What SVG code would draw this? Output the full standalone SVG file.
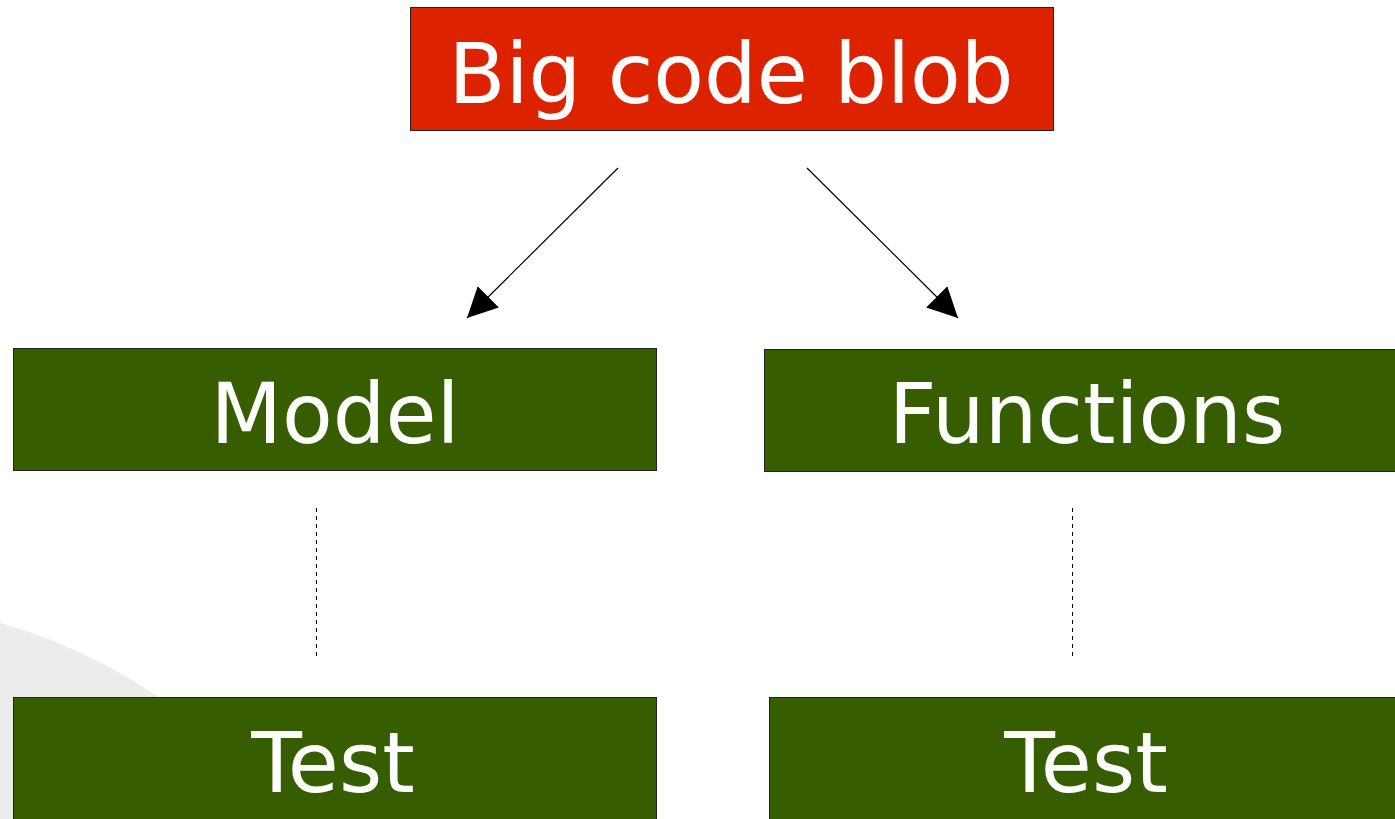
<svg xmlns="http://www.w3.org/2000/svg" width="1395" height="819" viewBox="0 0 1395 819">
  <defs>
    <style>
      .box { stroke: #222; stroke-width: 1; }
      .green { fill: #365e00; }
      .red { fill: #dd2200; }
      .label { font-family: "DejaVu Sans", Verdana, sans-serif; font-size: 83px; fill: #ffffff; text-anchor: middle; }
      .arrow { stroke: #000; stroke-width: 1.2; fill: none; }
      .dash { stroke: #000; stroke-width: 1; stroke-dasharray: 4 4; fill: none; }
    </style>
    <marker id="head" viewBox="0 0 10 10" refX="10" refY="5" markerWidth="30" markerHeight="30" markerUnits="userSpaceOnUse" orient="auto">
      <path d="M0,0 L10,5 L0,10 Z" fill="#000"/>
    </marker>
  </defs>
  <rect width="1395" height="819" fill="#ffffff"/>
  <circle cx="-140" cy="1128" r="524" fill="#ececec"/>
  <g id="connectors">
    <line class="arrow" x1="618" y1="168" x2="467" y2="318" marker-end="url(#head)"/>
    <line class="arrow" x1="807" y1="168" x2="958" y2="318" marker-end="url(#head)"/>
    <line class="dash" x1="316.5" y1="508" x2="316.5" y2="657"/>
    <line class="dash" x1="1072.5" y1="508" x2="1072.5" y2="657"/>
  </g>
  <g id="blob">
    <rect class="box red" x="410.5" y="7.5" width="643" height="123"/>
    <text class="label" x="731" y="103" font-size="85">Big code blob</text>
  </g>
  <g id="model">
    <rect class="box green" x="13.5" y="348.5" width="643" height="122"/>
    <text class="label" x="335" y="443">Model</text>
  </g>
  <g id="functions">
    <rect class="box green" x="764.5" y="349.5" width="646" height="122"/>
    <text class="label" x="1087" y="443">Functions</text>
  </g>
  <g id="test-left">
    <rect class="box green" x="13.5" y="697.5" width="643" height="130"/>
    <text class="label" x="333" y="792">Test</text>
  </g>
  <g id="test-right">
    <rect class="box green" x="769.5" y="697.5" width="632" height="130"/>
    <text class="label" x="1086" y="792">Test</text>
  </g>
</svg>
